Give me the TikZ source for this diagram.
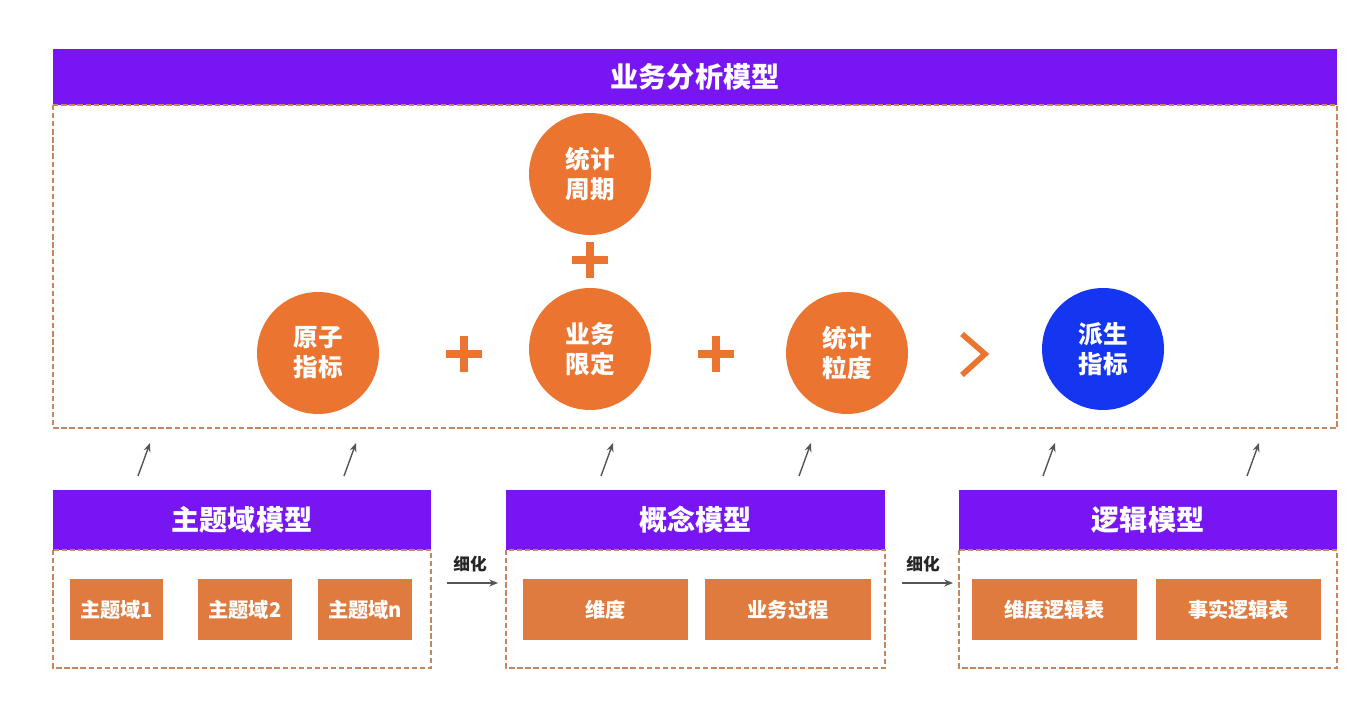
\documentclass[tikz,border=0pt]{standalone}
\usepackage{fontspec}
\setmainfont{Noto Sans CJK SC}
\usetikzlibrary{arrows.meta}

\definecolor{barpurple}{HTML}{7716F3}
\definecolor{circorange}{HTML}{EB7430}
\definecolor{boxorange}{HTML}{E07B3F}
\definecolor{derivblue}{HTML}{1436F0}
\definecolor{dashbrown}{HTML}{C8865E}
\definecolor{arrowgray}{HTML}{555555}

\begin{document}
\begin{tikzpicture}[x=0.02cm, y=-0.02cm]
  \tikzset{
    purple_bar/.style={rectangle, fill=barpurple, text=white, inner sep=0pt, font=\fontsize{16}{18}\selectfont\bfseries},
    dash_box/.style={draw=dashbrown, dash pattern=on 3pt off 1.6pt, line width=0.7pt},
    orange_circle/.style={circle, fill=circorange, text=white, minimum size=2.44cm, inner sep=0pt, align=center, font=\fontsize{14}{17}\selectfont\bfseries},
    blue_circle/.style={orange_circle, fill=derivblue},
    orange_box/.style={rectangle, fill=boxorange, text=white, minimum height=1.22cm, inner sep=0pt, font=\fontsize{11.5}{13}\selectfont\bfseries},
    up_arrow/.style={-{Stealth[length=5pt, width=4pt]}, draw=arrowgray, line width=0.8pt},
    refine_arrow/.style={-{Stealth[length=5pt, width=4pt]}, draw=arrowgray, line width=0.8pt}
  }

  % Bounding box
  \useasboundingbox (0,0) rectangle (1368,705);

  % Modelo de análisis (arriba)
  \node[purple_bar, minimum width=25.68cm, minimum height=1.12cm] (top_bar) at (695,77) {业务分析模型};
  \draw[dash_box] (53,105) rectangle (1337,428);

  % Indicadores
  \node[orange_circle] (period) at (590,174) {统计\\周期};
  \node[orange_circle] (atomic) at (318,353) {原子\\指标};
  \node[orange_circle] (limit) at (590,349) {业务\\限定};
  \node[orange_circle] (grain) at (847,353) {统计\\粒度};
  \node[blue_circle] (derived) at (1103,349) {派生\\指标};

  % Signos
  \foreach \px/\py in {590/260, 464/354, 716/354}
    \draw[circorange, line width=4.5pt] (\px-18,\py) -- (\px+18,\py) (\px,\py-18) -- (\px,\py+18);
  \draw[circorange, line width=3.2pt] (962,334) -- (985,354) -- (962,375);

  % Modelos inferiores
  \node[purple_bar, minimum width=7.56cm, minimum height=1.22cm] (topic_bar) at (242,520) {主题域模型};
  \node[purple_bar, minimum width=7.58cm, minimum height=1.22cm] (concept_bar) at (695.5,520) {概念模型};
  \node[purple_bar, minimum width=7.56cm, minimum height=1.22cm] (logic_bar) at (1148,520) {逻辑模型};
  \draw[dash_box] (53,550) rectangle (431,668);
  \draw[dash_box] (506,550) rectangle (885,668);
  \draw[dash_box] (959,550) rectangle (1337,668);

  % Cajas
  \node[orange_box, minimum width=1.86cm] (topic1) at (116.5,609.5) {主题域1};
  \node[orange_box, minimum width=1.88cm] (topic2) at (245,609.5) {主题域2};
  \node[orange_box, minimum width=1.88cm] (topicn) at (365,609.5) {主题域n};
  \node[orange_box, minimum width=3.3cm] (dim) at (605.5,609.5) {维度};
  \node[orange_box, minimum width=3.32cm] (process) at (788,609.5) {业务过程};
  \node[orange_box, minimum width=3.3cm] (dim_table) at (1054.5,609.5) {维度逻辑表};
  \node[orange_box, minimum width=3.3cm] (fact_table) at (1238.5,609.5) {事实逻辑表};

  % Flechas hacia arriba
  \foreach \ax [count=\i] in {138, 344, 601, 799, 1043, 1247} {
    \coordinate (up_s\i) at (\ax,476);
    \coordinate (up_e\i) at (\ax+12,443);
    \draw[up_arrow] (up_s\i) -- (up_e\i);
  }

  % Refinamiento
  \coordinate (ref_a1) at (447,583);
  \coordinate (ref_b1) at (498,583);
  \coordinate (ref_a2) at (902,583);
  \coordinate (ref_b2) at (953,583);
  \draw[refine_arrow] (ref_a1) -- (ref_b1);
  \draw[refine_arrow] (ref_a2) -- (ref_b2);
  \node[font=\fontsize{9.5}{11}\selectfont\bfseries, text=black!85] (ref_l1) at (470,564) {细化};
  \node[font=\fontsize{9.5}{11}\selectfont\bfseries, text=black!85] (ref_l2) at (923,564) {细化};
\end{tikzpicture}
\end{document}
